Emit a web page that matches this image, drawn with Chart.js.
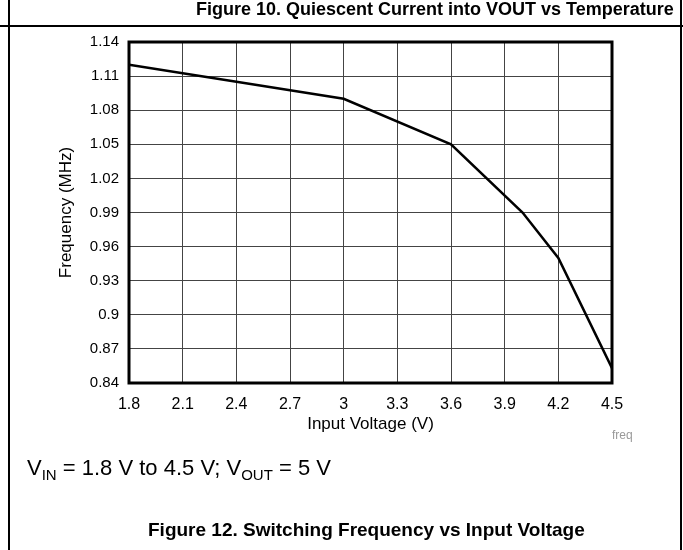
<!DOCTYPE html>
<html>
<head>
<meta charset="utf-8">
<script src="https://cdn.jsdelivr.net/npm/chart.js@4.4.1/dist/chart.umd.min.js"></script>
<style>
  html, body { margin: 0; padding: 0; background: #fff; }
  #wrap { position: relative; width: 683px; height: 550px; overflow: hidden; font-family: "Liberation Sans", Arial, sans-serif; }
  #freq-canvas { position: absolute; left: 0; top: 0; }
  .txt { position: absolute; white-space: nowrap; color: #000; }
  #top-title { top: -1px; left: 196px; font-size: 18px; font-weight: bold; }
  #cond { top: 455px; left: 27px; font-size: 22px; }
  #cond sub { font-size: 15px; vertical-align: -5px; line-height: 0; }
  #fig-title { top: 519px; left: 148px; font-size: 19px; font-weight: bold; }
  #tag { top: 428px; left: 612px; font-size: 12px; color: #999; }
</style>
</head>
<body>
<div id="wrap">
  <canvas id="freq-canvas" width="683" height="550"></canvas>
  <div class="txt" id="top-title">Figure 10. Quiescent Current into VOUT vs Temperature</div>
  <div class="txt" id="tag">freq</div>
  <div class="txt" id="cond">V<sub>IN</sub> = 1.8 V to 4.5 V; V<sub>OUT</sub> = 5 V</div>
  <div class="txt" id="fig-title">Figure 12. Switching Frequency vs Input Voltage</div>
</div>
<script>
'use strict';
// data
var inputVoltage = [1.8, 3.0, 3.6, 4.0, 4.2, 4.5];
var frequencyMHz = [1.12, 1.09, 1.05, 0.99, 0.95, 0.853];

var xTicks = [1.8, 2.1, 2.4, 2.7, 3.0, 3.3, 3.6, 3.9, 4.2, 4.5];
var yTicks = [0.84, 0.87, 0.9, 0.93, 0.96, 0.99, 1.02, 1.05, 1.08, 1.11, 1.14];

var canvas = document.getElementById('freq-canvas');

// page frame lines + heavy plot border
var frame = {
  id: 'frame',
  afterDraw: function(chart) {
    var ctx = chart.ctx, a = chart.chartArea;
    ctx.save();
    ctx.strokeStyle = '#000';
    ctx.lineWidth = 2;
    ctx.beginPath();
    ctx.moveTo(9, 0); ctx.lineTo(9, 550);
    ctx.moveTo(681, 0); ctx.lineTo(681, 550);
    ctx.moveTo(0, 26); ctx.lineTo(683, 26);
    ctx.stroke();
    ctx.lineWidth = 3;
    ctx.strokeRect(a.left, a.top, a.right - a.left, a.bottom - a.top);
    ctx.restore();
  }
};

var config = {
  type: 'scatter',
  data: {
    datasets: [{
      data: inputVoltage.map(function(v, i) { return { x: v, y: frequencyMHz[i] }; }),
      showLine: true,
      borderColor: '#000',
      borderWidth: 2.5,
      pointRadius: 0,
      tension: 0,
    }]
  },
  options: {
    responsive: false,
    animation: false,
    layout: { padding: { top: 42, right: 71, left: 52, bottom: 112 } },
    plugins: {
      legend: { display: false },
      tooltip: { enabled: false },
    },
    scales: {
      x: {
        type: 'linear',
        min: 1.8,
        max: 4.5,
        afterBuildTicks: function(scale) {
          scale.ticks = xTicks.map(function(v) { return { value: v }; });
        },
        afterFit: function(scale) { scale.height = 55; },
        grid: { color: '#444', lineWidth: 1, drawTicks: false },
        border: { display: false },
        ticks: {
          color: '#000',
          font: { family: 'Liberation Sans', size: 16 },
          padding: 12,
          maxRotation: 0,
          autoSkip: false,
          callback: function(v) { return String(Number(v.toFixed(2))); }
        },
        title: {
          display: true,
          text: 'Input Voltage (V)',
          color: '#000',
          font: { family: 'Liberation Sans', size: 17 },
          padding: { top: 0, bottom: 3 }
        }
      },
      y: {
        min: 0.84,
        max: 1.14,
        afterBuildTicks: function(scale) {
          scale.ticks = yTicks.map(function(v) { return { value: v }; });
        },
        afterFit: function(scale) { scale.width = 77; },
        grid: { color: '#444', lineWidth: 1, drawTicks: false },
        border: { display: false },
        ticks: {
          color: '#000',
          font: { family: 'Liberation Sans', size: 15 },
          padding: 10,
          autoSkip: false,
          callback: function(v) { return String(Number(v.toFixed(2))); }
        },
        title: {
          display: true,
          text: 'Frequency (MHz)',
          color: '#000',
          font: { family: 'Liberation Sans', size: 17 },
          padding: { top: 4, bottom: 0 }
        }
      }
    }
  },
  plugins: [frame]
};

window.chart = new Chart(canvas, config);
</script>
</body>
</html>
